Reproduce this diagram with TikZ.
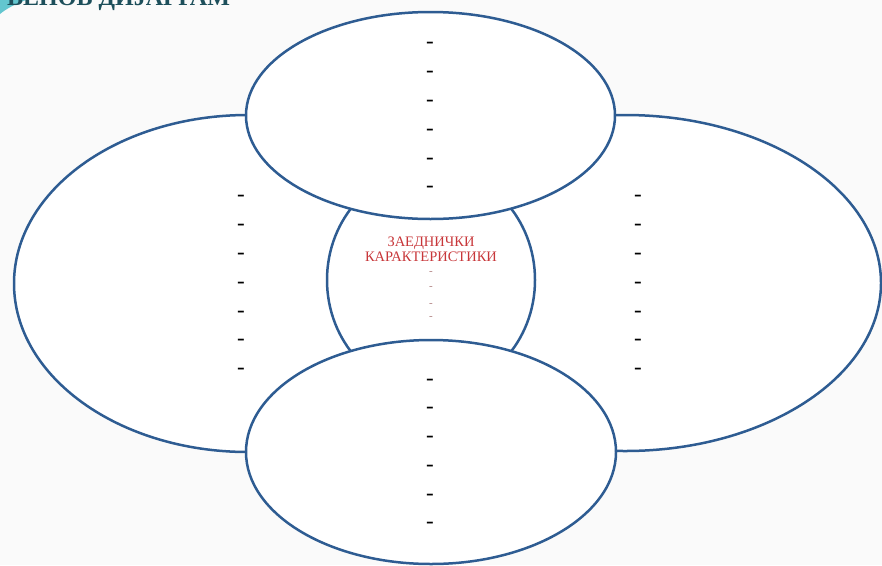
\documentclass[tikz,border=0pt]{standalone}
\usepackage{fontspec}
\setmainfont{Liberation Serif}
\usetikzlibrary{shapes.geometric}
\definecolor{bord}{HTML}{2E5C92}
\definecolor{bgc}{HTML}{FAFAFA}
\definecolor{redt}{HTML}{C8373A}
\definecolor{titlec}{HTML}{1D4F5B}
\definecolor{swooshc}{HTML}{63C6CF}
\definecolor{smalld}{HTML}{B08080}
\tikzset{
  venn/.style={ellipse, draw=bord, line width=2.5pt, fill=white, inner sep=0pt},
  dashmark/.style={inner sep=0pt, font=\fontsize{23}{23}\selectfont, text=black},
  smalldash/.style={inner sep=0pt, font=\fontsize{11}{11}\selectfont, text=smalld},
}
\begin{document}
\begin{tikzpicture}[x=1pt,y=-1pt]
\fill[bgc] (0,0) rectangle (882,565);
\useasboundingbox (0,0) rectangle (882,565);
\fill[swooshc] (0,0) -- (26,0) .. controls (15,4) and (6,9) .. (0,14) -- cycle;
\node[anchor=base west, inner sep=0pt, font=\bfseries\fontsize{24}{24}\selectfont, text=titlec] (title) at (7,5.5) {ВЕНОВ ДИЈАГРАМ};
\node[venn, minimum width=468pt, minimum height=337pt] (left) at (248,283.5) {};
\node[venn, minimum width=512pt, minimum height=336pt] (right) at (625,283) {};
\node[venn, minimum width=208pt, minimum height=224pt] (center) at (431,280) {};
\node[venn, minimum width=369pt, minimum height=207pt] (top) at (430.5,115.5) {};
\node[venn, minimum width=370pt, minimum height=224pt] (bottom) at (431,452) {};
\foreach \y [count=\i] in {198,227,256,285,314,342,371} {
  \node[dashmark] (ld\i) at (241,\y) {-};
  \node[dashmark] (rd\i) at (638,\y) {-};
}
\foreach \y [count=\i] in {45,74,103,132,161,189} {
  \node[dashmark] (td\i) at (430,\y) {-};
}
\foreach \y [count=\i] in {382,410,439,468,497,525} {
  \node[dashmark] (bd\i) at (430,\y) {-};
}
\node[inner sep=0pt, align=center, text=redt, font=\fontsize{14.5}{14.5}\selectfont] (label) at (431,249.5) {ЗАЕДНИЧКИ\\КАРАКТЕРИСТИКИ};
\foreach \y [count=\i] in {273,288,305,318} {
  \node[smalldash] (cd\i) at (431,\y) {-};
}
\end{tikzpicture}
\end{document}
